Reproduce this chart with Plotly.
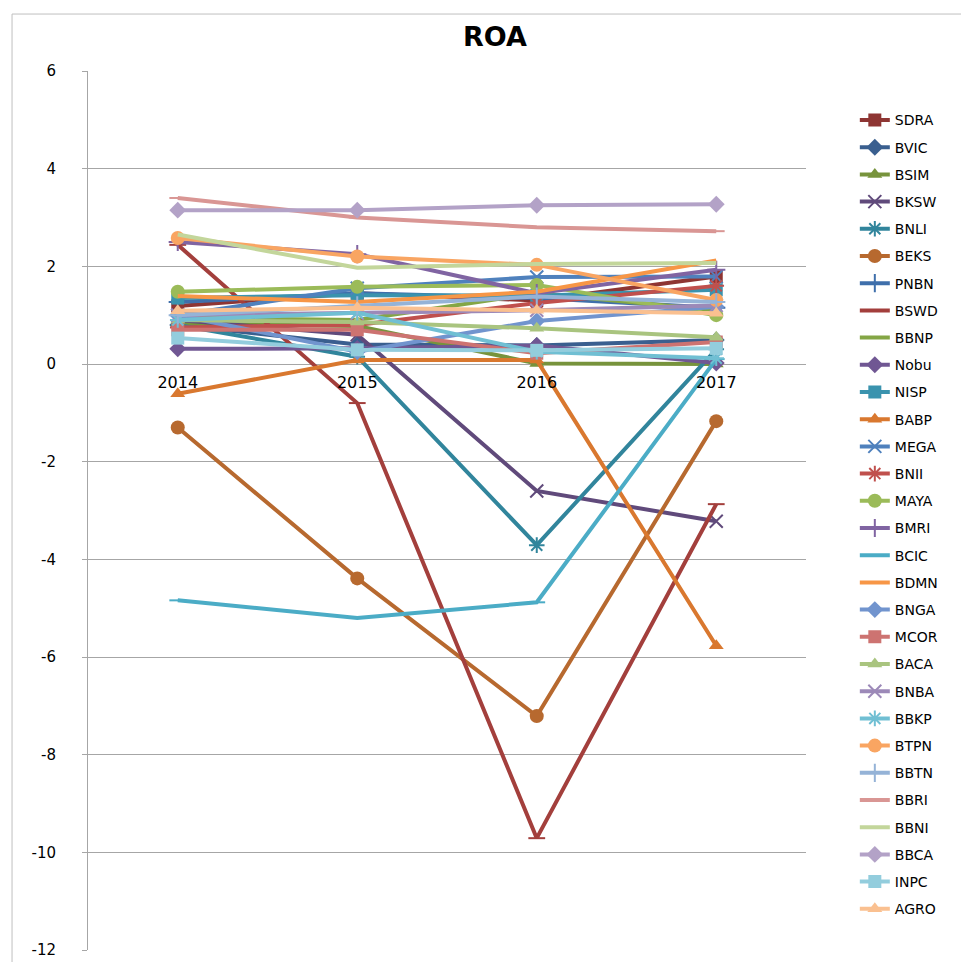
import plotly.graph_objects as go

years = ["2014", "2015", "2016", "2017"]

names = ["SDRA", "BVIC", "BSIM", "BKSW", "BNLI", "BEKS", "PNBN", "BSWD", "BBNP", "Nobu",
         "NISP", "BABP", "MEGA", "BNII", "MAYA", "BMRI", "BCIC", "BDMN", "BNGA", "MCOR",
         "BACA", "BNBA", "BBKP", "BTPN", "BBTN", "BBRI", "BBNI", "BBCA", "INPC", "AGRO"]

SDRA = [1.19, 1.45, 1.30, 1.79]
BVIC = [0.80, 0.40, 0.38, 0.49]
BSIM = [0.83, 0.78, 0.01, 0.00]
BKSW = [0.90, 0.60, -2.60, -3.22]
BNLI = [0.80, 0.15, -3.71, 0.30]
BEKS = [-1.30, -4.39, -7.21, -1.17]
PNBN = [1.27, 1.45, 1.35, 1.15]
BSWD = [2.44, -0.80, -9.71, -2.87]
BBNP = [0.95, 0.90, 1.45, 1.10]
Nobu = [0.31, 0.32, 0.38, 0.02]
NISP = [1.35, 1.41, 1.40, 1.52]
BABP = [-0.61, 0.08, 0.08, -5.77]
MEGA = [1.00, 1.55, 1.78, 1.79]
BNII = [0.75, 0.80, 1.25, 1.60]
MAYA = [1.48, 1.58, 1.62, 1.00]
BMRI = [2.50, 2.25, 1.45, 1.93]
BCIC = [-4.84, -5.20, -4.88, 0.10]
BDMN = [1.39, 1.27, 1.48, 2.12]
BNGA = [1.00, 0.25, 0.88, 1.17]
MCOR = [0.70, 0.70, 0.22, 0.45]
BACA = [0.90, 0.86, 0.73, 0.55]
BNBA = [1.00, 1.04, 1.10, 1.20]
BBKP = [0.90, 1.05, 0.25, 0.12]
BTPN = [2.58, 2.20, 2.03, 1.31]
BBTN = [1.00, 1.20, 1.38, 1.27]
BBRI = [3.40, 3.00, 2.80, 2.72]
BBNI = [2.65, 1.97, 2.05, 2.07]
BBCA = [3.15, 3.15, 3.25, 3.27]
INPC = [0.53, 0.29, 0.28, 0.32]
AGRO = [1.09, 1.15, 1.10, 1.04]

series = [SDRA, BVIC, BSIM, BKSW, BNLI, BEKS, PNBN, BSWD, BBNP, Nobu,
          NISP, BABP, MEGA, BNII, MAYA, BMRI, BCIC, BDMN, BNGA, MCOR,
          BACA, BNBA, BBKP, BTPN, BBTN, BBRI, BBNI, BBCA, INPC, AGRO]

y_tick_vals = [-12, -10, -8, -6, -4, -2, 0, 2, 4, 6]
y_tick_text = ["-12", "-10", "-8", "-6", "-4", "-2", "0", "2", "4", "6"]

colors = ["#8E3533", "#3A5F8F", "#77933C", "#604A7B", "#31859C", "#B7692F", "#3F6FAB",
          "#A33F3C", "#84A645", "#705793", "#3A93AE", "#D9782F", "#4F81BD", "#C0504D",
          "#9BBB59", "#8064A2", "#4BACC6", "#F79646", "#7194CE", "#CD7371", "#A9C47F",
          "#9C89B8", "#70BFD3", "#F9A562", "#95B3D7", "#D99694", "#C3D69B", "#B3A2C7",
          "#93CDDD", "#FAC090"]

symbols = ["square", "diamond", "triangle-up", "x-thin-open", "asterisk-open", "circle",
           "cross-thin-open", "line-ew-open", None,
           "diamond", "square", "triangle-up", "x-thin-open", "asterisk-open", "circle",
           "cross-thin-open", "line-ew-open", None,
           "diamond", "square", "triangle-up", "x-thin-open", "asterisk-open", "circle",
           "cross-thin-open", "line-ew-open", None,
           "diamond", "square", "triangle-up"]

FONT = "DejaVu Sans, Liberation Sans, sans-serif"

# page has an 8px body margin: figure is drawn at (8, 8)
W, H = 961, 954

fig = go.Figure()
for i, (nm, vals) in enumerate(zip(names, series)):
    sym = symbols[i]
    c = colors[i]
    if sym is None:
        mode = "lines"
        marker = dict()
    else:
        mode = "lines+markers"
        if sym.endswith("-open"):
            size = 13 if sym != "line-ew-open" else 12
            marker = dict(symbol=sym, size=size, color=c, line=dict(color=c, width=2))
        else:
            size = 14 if sym == "circle" else 13
            marker = dict(symbol=sym, size=size, color=c, line=dict(width=0))
    fig.add_trace(go.Scatter(x=years, y=vals, name=nm, mode=mode, marker=marker,
                             line=dict(color=c, width=4), legendgroup=nm))

fig.add_shape(type="rect", xref="paper", yref="paper", x0=-0.1058, y0=-0.05, x1=1.3, y1=1.0648,
              line=dict(color="#BFBFBF", width=1), layer="below")

fig.update_layout(
    width=W, height=H,
    margin=dict(l=80, r=163, t=63, b=12, autoexpand=False),
    paper_bgcolor="white", plot_bgcolor="white",
    font=dict(family=FONT, color="black", size=14),
    title=dict(text="<b>ROA</b>", x=487 / W, xref="container", xanchor="center",
               y=1 - 29 / H, yref="container", yanchor="middle",
               font=dict(size=27, family=FONT)),
    showlegend=True,
    legend=dict(x=1.068, y=0.962, xanchor="left", yanchor="top",
                font=dict(size=14, family=FONT), tracegroupgap=6, bgcolor="rgba(0,0,0,0)"),
    xaxis=dict(type="category", anchor="free", position=12 / 18, showgrid=False,
               showline=False, ticks="", tickfont=dict(size=16), ticklabelstandoff=7,
               range=[-0.5, 3.5], zeroline=False, automargin=False),
    yaxis=dict(range=[-12, 6], tickvals=y_tick_vals, ticktext=y_tick_text,
               showgrid=True, gridcolor="#A6A6A6", gridwidth=1,
               zeroline=False, showline=True, linecolor="#A6A6A6", linewidth=1,
               ticks="outside", ticklen=5, tickcolor="#A6A6A6",
               tickfont=dict(size=15), ticklabelstandoff=23, automargin=False),
)

fig.write_html("out.html")
